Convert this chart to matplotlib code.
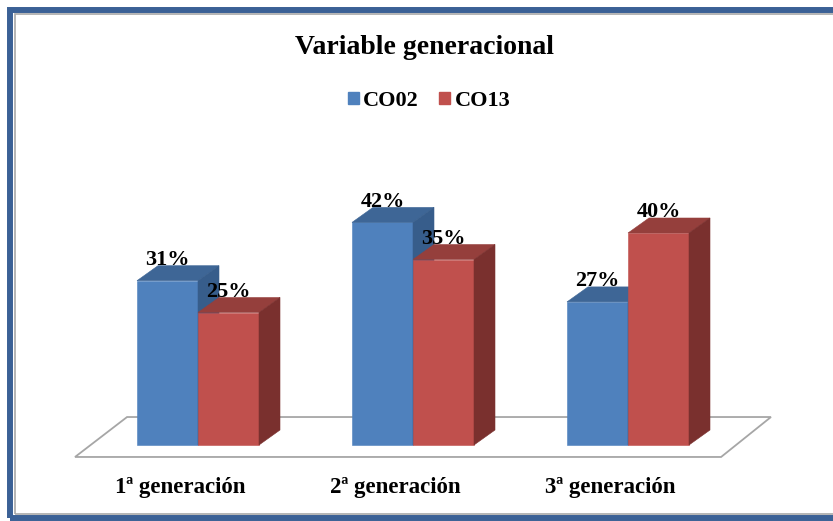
import numpy as np
import matplotlib.pyplot as plt
from matplotlib.patches import Polygon, Rectangle, Patch

plt.rcParams['font.family'] = ['Liberation Serif', 'DejaVu Serif']

categories = ['1ª generación', '2ª generación', '3ª generación']
series = ['CO02', 'CO13']
co02 = [31, 42, 27]
co13 = [25, 35, 40]

# face colours: front, top, side
blue = ('#4f81bd', '#3e6696', '#375d8b')
red = ('#c0504d', '#953f3c', '#7a302e')

W, H = 833, 521
fig = plt.figure(figsize=(W / 100, H / 100), dpi=100)
fig.patch.set_facecolor('white')

# pixel layout of the plot: group spacing and percent scale
GROUP_PX, PCT_PX = 215.0, 5.3
X0_PX, Y0_PX = 198.0, 445.0

ax = fig.add_axes([0, 0, 1, 1])
ax.set_xlim(-X0_PX / GROUP_PX, (W - X0_PX) / GROUP_PX)
ax.set_ylim((Y0_PX - H) / PCT_PX, Y0_PX / PCT_PX)
ax.axis('off')

bar_w = 61 / GROUP_PX
dx, dy = 21 / GROUP_PX, 15 / PCT_PX

# floor of the 3d box
floor = Polygon([(-0.572, -2.26), (2.433, -2.26), (2.665, 5.28), (-0.330, 5.28)],
                closed=True, facecolor='white', edgecolor='#a6a6a6', lw=1.3, zorder=1)
ax.add_patch(floor)

x = np.arange(len(categories))


def bar3d(xs, vals, colors, z):
    front, top, side = colors
    bars = ax.bar(xs, vals, width=bar_w, color=front, edgecolor=front, linewidth=0.4, zorder=z)
    for b, v in zip(bars, vals):
        l, r = b.get_x(), b.get_x() + b.get_width()
        ax.add_patch(Polygon([(l, v), (r, v), (r + dx, v + dy), (l + dx, v + dy)],
                             closed=True, facecolor=top, edgecolor=top, lw=0.4, zorder=z))
        ax.add_patch(Polygon([(r, 0), (r + dx, dy), (r + dx, v + dy), (r, v)],
                             closed=True, facecolor=side, edgecolor=side, lw=0.4, zorder=z))
        ax.text((l + r) / 2, v + dy + 0.1, f'{v}%', ha='center', va='baseline',
                fontsize=16, fontweight='bold', zorder=10)


bar3d(x - bar_w / 2, co02, blue, 2)
bar3d(x + bar_w / 2, co13, red, 3)

for xi, name in zip(x, categories):
    ax.text(xi - 18 / GROUP_PX, (Y0_PX - 488) / PCT_PX, name, ha='center', va='center',
            fontsize=16.5, fontweight='bold')

fig.text(424.5 / W, 1 - 48 / H, 'Variable generacional', ha='center', va='center',
         fontsize=20, fontweight='bold')

handles = [Patch(color=blue[0]), Patch(color=red[0])]
fig.legend(handles, series, loc='center', bbox_to_anchor=(429 / W, 1 - 101 / H),
           ncol=2, frameon=False, prop={'size': 16, 'weight': 'bold'},
           handlelength=0.5, handleheight=0.5, handletextpad=0.2, columnspacing=0.9)

# outer border: blue band with a thin grey inner line
fig.add_artist(Rectangle((10 / W, 3 / H), (W + 20) / W, (H - 13) / H, transform=fig.transFigure,
                         fill=False, edgecolor='#3b6196', lw=4.3))
fig.add_artist(Rectangle((14.5 / W, 7.5 / H), (W + 20) / W, (H - 21.5) / H,
                         transform=fig.transFigure, fill=False, edgecolor='#a8a8a8', lw=1.2))

fig.savefig('out.png', dpi=100)
